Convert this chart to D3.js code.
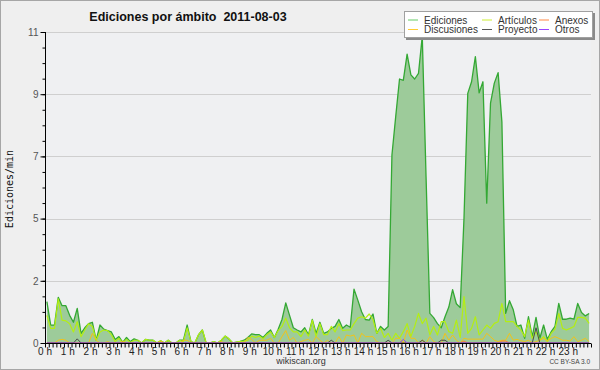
<!DOCTYPE html>
<html><head><meta charset="utf-8">
<script src="https://cdn.jsdelivr.net/npm/d3@7"></script>
<style>
html,body{margin:0;padding:0;background:#efefef;}
svg{display:block;}
</style></head>
<body>
<svg id="c" width="600" height="370"></svg>
<script>
// ---- data (10-minute bins, 144 per day) ----
const hourLabels = ["0 h","1 h","2 h","3 h","4 h","5 h","6 h","7 h","8 h","9 h","10 h","11 h","12 h","13 h","14 h","15 h","16 h","17 h","18 h","19 h","20 h","21 h","22 h","23 h"];
const yTickValues = [0, 2.25, 4.5, 6.75, 9, 11.25];
const yTickLabels = ["0","2","5","7","9","11"];
const seriesNames = ["Ediciones","Artículos","Anexos","Discusiones","Proyecto","Otros"];

const ediciones = [
 1.5,0.65,0.65,1.65,1.35,1.35,
 1.0,0.75,1.25,0.35,0.55,0.7,
 0.75,0.1,0.65,0.5,0.45,0.4,
 0.13,0.23,0.02,0.2,0.05,0.15,
 0.1,0,0.13,0.1,0.1,0,
 0.08,0,0.1,0,0,0.1,
 0.1,0.65,0.05,0,0.3,0.47,
 0,0,0.05,0,0.1,0.25,
 0.15,0,0.03,0.06,0.1,0.2,
 0.33,0.3,0.3,0.2,0.35,0.47,
 0.2,0.5,0.85,1.45,1.0,0.55,
 0.47,0.4,0.55,0.3,0.85,0.35,
 0.75,0.35,0.4,0.53,0.6,0.85,
 0.53,0.65,0.57,1.95,1.55,1.13,
 0.85,0.83,1.05,0.35,0.6,0.47,
 0.6,6.8,8.2,9.55,9.5,10.45,
 9.7,9.55,9.75,11.1,6.0,1.07,
 0.92,0.7,0.55,0.95,1.3,1.93,
 1.42,1.28,4.5,9.03,9.45,10.36,
 9.05,9.45,5.06,8.68,9.4,9.78,
 8.0,1.07,1.53,1.2,0.6,0.65,
 0.17,0.95,0.23,0.93,0.17,0.65,
 0.13,0.41,0.6,1.43,0.86,0.86,
 0.9,0.86,1.43,1.1,0.98,1.07];

const articulos = [
 1.0,0.53,0.53,1.6,0.83,0.8,
 0.7,0.4,0.77,0.23,0.47,0.7,
 0.6,0.1,0.4,0.47,0.45,0.3,
 0.05,0.17,0,0.13,0.02,0.1,
 0.1,0,0.13,0.1,0.1,0,
 0.08,0,0.1,0,0,0.1,
 0.05,0.55,0.05,0,0.3,0.47,
 0,0,0.05,0,0.1,0.25,
 0.15,0,0.03,0.06,0.07,0.1,
 0.25,0.2,0.25,0.15,0.3,0.4,
 0.2,0.45,0.6,0.9,0.55,0.4,
 0.4,0.23,0.47,0.25,0.83,0.23,
 0.7,0.3,0.3,0.6,0.4,0.7,
 0.45,0.47,0.47,0.7,0.9,0.95,
 0.9,1.05,0.85,0.35,0.53,0.2,
 0.35,0.1,0.35,0.17,0.41,0.7,
 0.23,0.6,1.07,0.7,0.9,0.29,
 0.6,0.29,0.77,0.77,0.41,0.35,
 0.83,0.2,1.68,0.35,0.53,0.95,
 0.29,0.47,0.65,0.53,0.71,0.77,
 1.43,0.77,0.77,0.77,0.6,0.47,
 0.23,0.83,0.17,0.41,0.1,0.23,
 0.05,0.35,0.5,1.07,0.53,0.47,
 0.53,0.6,0.93,0.93,0.9,0.71];

const discusiones = [
 0,0,0,0.1,0.13,0.1,
 0,0,0,0,0,0,
 0.35,0.1,0,0,0.05,0,
 0,0,0.07,0,0,0,
 0,0,0,0,0,0,
 0.07,0,0,0,0,0,
 0.1,0.1,0,0,0,0,
 0,0,0,0,0.05,0,
 0,0,0,0,0,0.2,
 0.13,0,0.1,0.1,0.1,0.17,
 0,0,0.23,0.45,0.1,0.2,
 0,0.05,0.1,0.13,0,0.23,
 0.1,0,0.1,0,0,0.23,
 0,0.29,0.25,0.29,0,0.35,
 0.23,0.23,0.23,0.05,0,0,
 0,0,0.17,0.17,0,0.47,
 0.17,0.17,0,0.1,0,0.23,
 0.05,0,0,0.35,0.1,0.29,
 0.1,0,0.17,0.14,0.14,0.14,
 0.14,0.14,0.35,0.23,0.1,0.05,
 0.1,0.1,0.35,0.1,0.13,0.08,
 0.05,0.1,0.01,0.05,0.1,0.17,
 0.07,0.17,0.23,0.17,0.1,0.1,
 0.07,0.23,0.05,0.1,0.17,0.05];

const proyecto = [
 0,0,0,0,0,0, 0,0,0.15,0,0,0, 0,0,0,0,0,0, 0,0,0,0,0,0,
 0,0,0,0,0,0, 0,0,0,0,0,0, 0,0,0,0,0,0, 0,0,0,0,0,0,
 0,0,0,0,0,0, 0,0,0,0,0,0, 0,0,0,0,0,0, 0,0,0,0,0,0,
 0,0,0,0.1,0,0, 0,0,0,0,0,0, 0,0,0,0,0,0, 0.1,0,0,0,0,0,
 0,0,0,0.1,0,0, 0,0,0.1,0.1,0,0, 0,0,0,0,0,0, 0,0,0,0,0,0,
 0,0,0,0,0,0, 0,0,0,0.55,0,0, 0,0,0,0,0,0, 0,0,0,0,0,0];

const anexos = [
 0,0,0,0,0,0, 0,0,0,0,0,0, 0,0,0,0,0,0, 0,0,0,0,0,0,
 0,0,0,0,0,0, 0,0,0,0,0,0, 0,0,0,0,0,0, 0,0,0,0,0,0,
 0,0,0,0,0,0, 0,0,0,0,0,0, 0,0,0,0,0,0, 0,0,0,0,0,0,
 0,0,0,0,0,0, 0,0,0,0,0,0, 0,0,0,0,0,0, 0,0,0,0,0,0,
 0,0,0,0,0,0, 0,0,0,0,0,0, 0,0,0.07,0,0,0, 0,0,0,0,0,0,
 0.07,0.07,0,0,0,0, 0,0,0,0,0,0, 0,0,0,0,0,0, 0,0,0,0,0,0];

const otros = [
 0,0,0,0,0,0, 0,0,0,0,0,0, 0,0,0,0,0,0, 0,0,0,0,0,0,
 0,0,0,0,0,0, 0,0,0,0,0,0, 0,0,0,0,0,0, 0,0,0,0,0,0,
 0,0,0,0,0,0, 0,0,0,0,0,0, 0,0,0,0,0,0, 0,0,0,0,0,0,
 0,0,0,0,0,0, 0,0,0,0,0,0, 0,0,0,0,0,0, 0,0,0,0,0.13,0,
 0,0,0,0,0,0, 0,0,0,0,0,0, 0,0,0,0,0,0, 0,0,0,0,0,0,
 0,0,0,0,0,0, 0,0,0,0,0,0, 0,0,0,0,0,0, 0,0,0,0,0,0];

// ---- drawing ----
const W = 600, H = 370;
const L = 45, R = 591, T = 32, B = 343;
const FONT = "Liberation Sans";
const svg = d3.select("#c");

svg.append("rect").attr("x",0.5).attr("y",0.5).attr("width",W-1).attr("height",H-1)
  .attr("fill","#efefef").attr("stroke","#a6a6a6");
svg.append("rect").attr("x",L).attr("y",T).attr("width",R-L).attr("height",B-T).attr("fill","#eff0f2");

const x = d3.scaleLinear().domain([0,144]).range([L,R]);
const y = d3.scaleLinear().domain([0,11.25]).range([B,T]);

// grid
svg.append("g").selectAll("line").data(yTickValues.slice(1)).join("line")
  .attr("x1",L).attr("x2",R).attr("y1",d=>Math.round(y(d))+0.5).attr("y2",d=>Math.round(y(d))+0.5)
  .attr("stroke","#cfcfcf").attr("stroke-width",1);

svg.append("clipPath").attr("id","pc").append("rect")
  .attr("x",L).attr("y",T-2).attr("width",R-L).attr("height",B-T+2);

const plot = svg.append("g").attr("clip-path","url(#pc)");
const px = (d,i)=>x(i+0.5);

plot.append("path").datum(ediciones)
  .attr("d", d3.area().x(px).y0(B).y1(d=>y(d)))
  .attr("fill","#9dcb9a");

const lineGen = d3.line().x(px).y(d=>y(d));
const drawOrder = [
  [ediciones,"#34a834",1.3],
  [articulos,"#b4ee12",1.2],
  [discusiones,"#f3c316",1],
  [anexos,"#ff7a3a",1],
  [proyecto,"#4a4a4a",1],
  [otros,"#9040f0",1]
];
drawOrder.forEach(([data,col,w])=>{
  plot.append("path").datum(data).attr("d",lineGen)
    .attr("fill","none").attr("stroke",col).attr("stroke-width",w).attr("stroke-linejoin","round");
});

// axes
const yAxisMinor = d3.range(0,11.25+0.001,0.5625);
svg.append("g").attr("transform",`translate(${L+0.5},0)`)
  .call(d3.axisLeft(y).tickValues(yAxisMinor).tickSize(3).tickFormat(""))
  .call(g=>g.select(".domain").remove())
  .call(g=>g.selectAll("line").attr("stroke","#000"));
svg.append("g").attr("transform",`translate(${L+0.5},0)`)
  .call(d3.axisLeft(y).tickValues(yTickValues).tickSize(5).tickPadding(2)
     .tickFormat((d,i)=>yTickLabels[i]))
  .call(g=>g.select(".domain").attr("d",`M0,${T}V${B+0.5}`).attr("stroke","#000"))
  .call(g=>g.selectAll("line").attr("stroke","#000"))
  .call(g=>g.selectAll("text").attr("font-family",FONT).attr("font-size","10px").attr("fill","#555"));

svg.append("g").attr("transform",`translate(0,${B+0.5})`)
  .call(d3.axisBottom(x).tickValues(d3.range(0,145)).tickSize(4).tickFormat(""))
  .call(g=>g.select(".domain").attr("d",`M${L},0H${R}`).attr("stroke","#000"))
  .call(g=>g.selectAll("line").attr("stroke","#000"));

svg.append("g").selectAll("text").data(hourLabels).join("text")
  .attr("x",(d,i)=>x(i*6)).attr("y",355)
  .attr("text-anchor","middle").attr("font-family",FONT).attr("font-size","10px").attr("fill","#222")
  .text(d=>d);

// titles
svg.append("text").attr("x",188).attr("y",21).attr("text-anchor","middle")
  .attr("font-family",FONT).attr("font-weight","bold").attr("font-size","12.5px").attr("fill","#111")
  .style("white-space","pre")
  .text("Ediciones por ámbito  2011-08-03");

svg.append("text").attr("transform","translate(13,189) rotate(-90)").attr("text-anchor","middle")
  .attr("font-family","DejaVu Sans Mono").attr("font-size","10px").attr("fill","#111")
  .text("Ediciones/min");

svg.append("text").attr("x",301).attr("y",364).attr("text-anchor","middle")
  .attr("font-family",FONT).attr("font-size","9px").attr("fill","#333").text("wikiscan.org");
svg.append("text").attr("x",590).attr("y",364).attr("text-anchor","end")
  .attr("font-family",FONT).attr("font-size","6.5px").attr("fill","#444").text("CC BY-SA 3.0");

// legend
const lg = svg.append("g");
lg.append("rect").attr("x",406).attr("y",13).attr("width",189).attr("height",27).attr("fill","#8a8a8a");
lg.append("rect").attr("x",404.5).attr("y",11.5).attr("width",188).attr("height",26)
  .attr("fill","#ffffff").attr("stroke","#a0a0a0");
const legendColors = ["#66cc66","#ccee33","#ff8844","#ffcc33","#555555","#9944ff"];
const legendPos = [[0,0],[1,0],[2,0],[0,1],[1,1],[2,1]];
const colX = [408,482,539], rowY = [20,29.5];
seriesNames.forEach((n,i)=>{
  const [c,r] = legendPos[i];
  lg.append("line").attr("x1",colX[c]).attr("x2",colX[c]+10).attr("y1",rowY[r]).attr("y2",rowY[r])
    .attr("stroke",legendColors[i]).attr("stroke-width",1);
  lg.append("text").attr("x",colX[c]+16).attr("y",rowY[r]+3.5)
    .attr("font-family",FONT).attr("font-size","10px").attr("fill","#333").text(n);
});
</script>
</body></html>
